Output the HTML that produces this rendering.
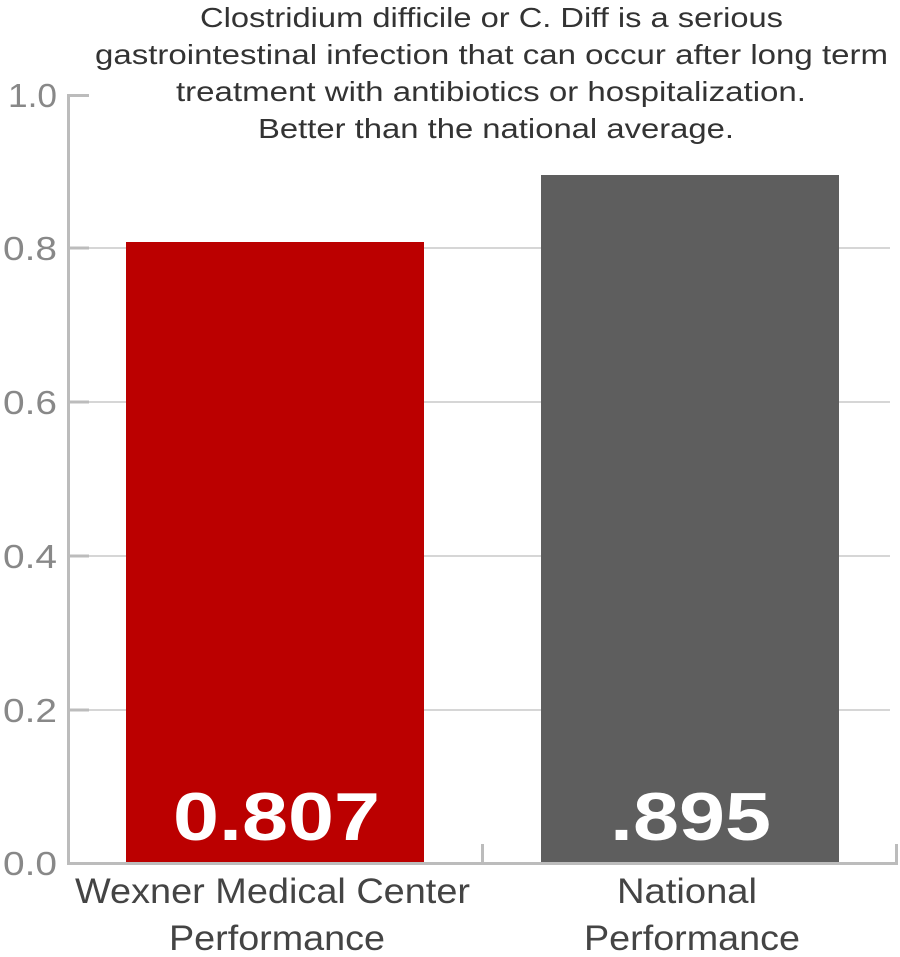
<!DOCTYPE html>
<html><head><meta charset="utf-8"><style>
body{margin:0;background:#fff;}
svg{display:block;font-family:"Liberation Sans",sans-serif;}
</style></head><body>
<svg width="900" height="957" viewBox="0 0 900 957">
<g stroke="#c8c8c8" stroke-width="1.5">
<line x1="88" y1="248" x2="890" y2="248"/>
<line x1="88" y1="402" x2="890" y2="402"/>
<line x1="88" y1="556" x2="890" y2="556"/>
<line x1="88" y1="710" x2="890" y2="710"/>
</g>
<rect x="126" y="242" width="298" height="621" fill="#bb0000"/>
<rect x="541" y="175" width="298" height="688" fill="#5e5e5e"/>
<g stroke="#bcbcbc" stroke-width="3">
<line x1="68.5" y1="94" x2="68.5" y2="864"/>
<line x1="67" y1="863.5" x2="898" y2="863.5"/>
<line x1="67" y1="95.5" x2="89" y2="95.5"/>
<line x1="67" y1="248" x2="89" y2="248"/>
<line x1="67" y1="402" x2="89" y2="402"/>
<line x1="67" y1="556" x2="89" y2="556"/>
<line x1="67" y1="710" x2="89" y2="710"/>
<line x1="482.5" y1="844" x2="482.5" y2="864"/>
<line x1="896.5" y1="844" x2="896.5" y2="864"/>
</g>
<g fill="#888" font-size="33">
<text x="8" y="107" textLength="49" lengthAdjust="spacingAndGlyphs">1.0</text>
<text x="3" y="260" textLength="54" lengthAdjust="spacingAndGlyphs">0.8</text>
<text x="3" y="414" textLength="54" lengthAdjust="spacingAndGlyphs">0.6</text>
<text x="3" y="568" textLength="54" lengthAdjust="spacingAndGlyphs">0.4</text>
<text x="3" y="722" textLength="54" lengthAdjust="spacingAndGlyphs">0.2</text>
<text x="3" y="875" textLength="54" lengthAdjust="spacingAndGlyphs">0.0</text>
</g>
<g fill="#333" font-size="28">
<text x="200" y="27" textLength="583" lengthAdjust="spacingAndGlyphs">Clostridium difficile or C. Diff is a serious</text>
<text x="95" y="64" textLength="793" lengthAdjust="spacingAndGlyphs">gastrointestinal infection that can occur after long term</text>
<text x="176" y="101" textLength="630" lengthAdjust="spacingAndGlyphs">treatment with antibiotics or hospitalization.</text>
<text x="258" y="138" textLength="476" lengthAdjust="spacingAndGlyphs">Better than the national average.</text>
</g>
<g fill="#fff" font-size="68" font-weight="bold">
<text x="173" y="840" textLength="207" lengthAdjust="spacingAndGlyphs">0.807</text>
<text x="610" y="840" textLength="161" lengthAdjust="spacingAndGlyphs">.895</text>
</g>
<g fill="#444" font-size="35">
<text x="75" y="903" textLength="395" lengthAdjust="spacingAndGlyphs">Wexner Medical Center</text>
<text x="169" y="950" textLength="216" lengthAdjust="spacingAndGlyphs">Performance</text>
<text x="617" y="903" textLength="140" lengthAdjust="spacingAndGlyphs">National</text>
<text x="584" y="950" textLength="216" lengthAdjust="spacingAndGlyphs">Performance</text>
</g>
</svg>
</body></html>
